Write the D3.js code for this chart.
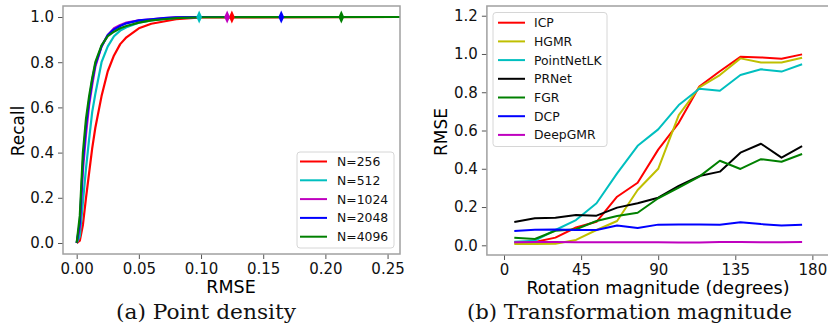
<!DOCTYPE html>
<html>
<head>
<meta charset="utf-8">
<script src="https://cdn.jsdelivr.net/npm/d3@7"></script>
<style>
  body { margin: 0; background: #fff; }
  svg { display: block; }
</style>
</head>
<body>
<svg id="chart" width="828" height="327"></svg>
<script>
// ---- data: (a) point density, recall vs RMSE threshold ----
const rmseGrid = [0, 0.0025, 0.005, 0.0075, 0.01, 0.0125, 0.015, 0.02, 0.025, 0.03, 0.035, 0.04, 0.05, 0.06, 0.07, 0.08, 0.1, 0.26];
const densityNames = ["N=256", "N=512", "N=1024", "N=2048", "N=4096"];
const recall256  = [0, 0.01, 0.08, 0.2, 0.31, 0.42, 0.51, 0.65, 0.76, 0.83, 0.88, 0.91, 0.95, 0.97, 0.98, 0.99, 0.998, 1];
const recall512  = [0, 0.03, 0.18, 0.33, 0.46, 0.58, 0.66, 0.8, 0.87, 0.915, 0.94, 0.955, 0.975, 0.985, 0.992, 0.996, 1, 1];
const recall1024 = [0, 0.07, 0.32, 0.48, 0.61, 0.7, 0.78, 0.87, 0.92, 0.95, 0.965, 0.975, 0.985, 0.99, 0.995, 0.998, 1, 1];
const recall2048 = [0, 0.09, 0.36, 0.52, 0.63, 0.72, 0.79, 0.87, 0.92, 0.945, 0.96, 0.972, 0.985, 0.99, 0.995, 0.998, 1, 1];
const recall4096 = [0, 0.12, 0.4, 0.55, 0.65, 0.73, 0.8, 0.875, 0.915, 0.935, 0.95, 0.96, 0.975, 0.985, 0.99, 0.995, 0.999, 1];
const maxRmse = [0.1248, 0.0985, 0.121, 0.1645, 0.2128];
const densityColors = ["#ff0000", "#00bfbf", "#bf00bf", "#0000ff", "#008000"];

// ---- data: (b) transformation magnitude, RMSE vs rotation ----
const rotation = [6, 18, 30, 42, 54, 66, 78, 90, 102, 114, 126, 138, 150, 162, 174];
const methodNames = ["ICP", "HGMR", "PointNetLK", "PRNet", "FGR", "DCP", "DeepGMR"];
const icp        = [0.014, 0.017, 0.04, 0.093, 0.123, 0.254, 0.327, 0.5, 0.64, 0.83, 0.91, 0.985, 0.982, 0.975, 0.998];
const hgmr       = [0.007, 0.007, 0.008, 0.028, 0.08, 0.127, 0.289, 0.4, 0.68, 0.826, 0.89, 0.977, 0.956, 0.955, 0.98];
const pointnetlk = [0.019, 0.024, 0.08, 0.132, 0.22, 0.376, 0.52, 0.606, 0.733, 0.818, 0.808, 0.89, 0.92, 0.908, 0.946];
const prnet      = [0.122, 0.141, 0.144, 0.158, 0.155, 0.197, 0.22, 0.249, 0.31, 0.362, 0.385, 0.484, 0.531, 0.458, 0.519];
const fgr        = [0.04, 0.033, 0.076, 0.084, 0.127, 0.153, 0.17, 0.246, 0.301, 0.359, 0.442, 0.399, 0.45, 0.437, 0.477];
const dcp        = [0.075, 0.081, 0.082, 0.08, 0.08, 0.104, 0.09, 0.108, 0.109, 0.109, 0.108, 0.121, 0.111, 0.104, 0.108];
const deepgmr    = [0.016, 0.017, 0.017, 0.016, 0.016, 0.016, 0.016, 0.016, 0.015, 0.015, 0.017, 0.017, 0.016, 0.016, 0.017];
const methodColors = ["#ff0000", "#bfbf00", "#00bfbf", "#000000", "#008000", "#0000ff", "#bf00bf"];

const recallTicks = [0, 0.2, 0.4, 0.6, 0.8, 1.0];
const rmseTicks = [0, 0.05, 0.1, 0.15, 0.2, 0.25];
const errTicks = [0, 0.2, 0.4, 0.6, 0.8, 1.0, 1.2];
const rotTicks = [0, 45, 90, 135, 180];

const svg = d3.select("#chart");
const sansFont = "DejaVu Sans, sans-serif";

/* draws frame, ticks and labels for one panel */
function drawAxes(g, x, y, xTicks, yTicks, xFmt, yFmt) {
    const [x0, x1] = x.range(), [y0, y1] = y.range();

    g.append("g")
     .attr("transform", `translate(0,${y0})`)
     .call(d3.axisBottom(x).tickValues(xTicks).tickFormat(xFmt).tickSize(5).tickPadding(4))
     .call(a => a.select(".domain").remove());
    g.append("g")
     .attr("transform", `translate(${x0},0)`)
     .call(d3.axisLeft(y).tickValues(yTicks).tickFormat(yFmt).tickSize(5).tickPadding(4))
     .call(a => a.select(".domain").remove());

    g.selectAll(".tick line").attr("stroke", "#555").attr("stroke-width", 1);
    g.selectAll(".tick text")
     .attr("font-family", sansFont)
     .attr("font-size", "15px")
     .attr("fill", "#111");

    g.append("rect")
     .attr("x", x0).attr("y", y1)
     .attr("width", x1 - x0).attr("height", y0 - y1)
     .attr("fill", "none")
     .attr("stroke", "#a0a0a0")
     .attr("stroke-width", 1.5);
}

function drawLegend(g, names, colors, box, rowY, rowGap, lineX, textX) {
    g.append("rect")
     .attr("x", box.x).attr("y", box.y)
     .attr("width", box.w).attr("height", box.h)
     .attr("rx", 3)
     .attr("fill", "white")
     .attr("fill-opacity", 0.85)
     .attr("stroke", "#d6d6d6");
    names.forEach((n, i) => {
        const yy = rowY + i * rowGap;
        g.append("line")
         .attr("x1", lineX[0]).attr("x2", lineX[1])
         .attr("y1", yy).attr("y2", yy)
         .attr("stroke", colors[i])
         .attr("stroke-width", 2);
        g.append("text")
         .attr("x", textX).attr("y", yy)
         .attr("dy", "0.36em")
         .attr("font-family", sansFont)
         .attr("font-size", "12.4px")
         .attr("fill", "#111")
         .text(n);
    });
}

// ---------- panel (a) ----------
const xa = d3.scaleLinear().domain([-0.011, 0.26]).range([63, 400]);
const ya = d3.scaleLinear().domain([-0.0487, 1.0487]).range([254, 6]);
const gA = svg.append("g");

svg.append("clipPath").attr("id", "clipA")
   .append("rect").attr("x", 63).attr("y", 6).attr("width", 337).attr("height", 248);

const recallSeries = [recall256, recall512, recall1024, recall2048, recall4096];
const lineA = d3.line().x(d => xa(d[0])).y(d => ya(d[1]));
const plotA = gA.append("g").attr("clip-path", "url(#clipA)");

recallSeries.forEach((vals, i) => {
    plotA.append("path")
         .datum(rmseGrid.map((r, j) => [r, vals[j]]))
         .attr("d", lineA)
         .attr("fill", "none")
         .attr("stroke", densityColors[i])
         .attr("stroke-width", 2.2)
         .attr("stroke-linejoin", "round");
});

// max-error markers sitting on recall = 1
const diamond = d3.symbol().type(d3.symbolDiamond).size(40);
maxRmse.forEach((m, i) => {
    plotA.append("path")
         .attr("d", diamond())
         .attr("transform", `translate(${xa(m)},${ya(1)}) scale(0.85,1.1)`)
         .attr("fill", densityColors[i]);
});

drawAxes(gA, xa, ya, rmseTicks, recallTicks, d3.format(".2f"), d3.format(".1f"));

gA.append("text")
  .attr("x", 231).attr("y", 293)
  .attr("text-anchor", "middle")
  .attr("font-family", sansFont).attr("font-size", "17.5px")
  .text("RMSE");
gA.append("text")
  .attr("transform", "translate(18,131) rotate(-90)")
  .attr("text-anchor", "middle")
  .attr("dy", "0.36em")
  .attr("font-family", sansFont).attr("font-size", "17px")
  .text("Recall");

drawLegend(gA, densityNames, densityColors,
           {x: 297, y: 152, w: 97, h: 96}, 161.5, 18.8, [300, 327], 337);

// ---------- panel (b) ----------
const xb = d3.scaleLinear().domain([-10, 190]).range([486.9, 829.5]);
const yb = d3.scaleLinear().domain([-0.0507, 1.2508]).range([255, 6]);
const gB = svg.append("g");

const methodSeries = [icp, hgmr, pointnetlk, prnet, fgr, dcp, deepgmr];
const lineB = d3.line().x((d, j) => xb(rotation[j])).y(d => yb(d));

methodSeries.forEach((vals, i) => {
    gB.append("path")
      .datum(vals)
      .attr("d", lineB)
      .attr("fill", "none")
      .attr("stroke", methodColors[i])
      .attr("stroke-width", 2)
      .attr("stroke-linejoin", "round");
});

drawAxes(gB, xb, yb, rotTicks, errTicks, d3.format("d"), d3.format(".1f"));

gB.append("text")
  .attr("x", 658).attr("y", 294)
  .attr("text-anchor", "middle")
  .attr("font-family", sansFont).attr("font-size", "17.5px")
  .text("Rotation magnitude (degrees)");
gB.append("text")
  .attr("transform", "translate(441,132) rotate(-90)")
  .attr("text-anchor", "middle")
  .attr("dy", "0.36em")
  .attr("font-family", sansFont).attr("font-size", "17px")
  .text("RMSE");

drawLegend(gB, methodNames, methodColors,
           {x: 493, y: 12.5, w: 114, h: 134}, 22.7, 18.7, [498, 525], 534);

// ---------- captions ----------
svg.append("text")
   .attr("x", 116).attr("y", 319)
   .attr("textLength", 180).attr("lengthAdjust", "spacingAndGlyphs")
   .attr("font-family", "DejaVu Serif, serif").attr("font-size", "21px")
   .attr("fill", "#111")
   .text("(a) Point density");
svg.append("text")
   .attr("x", 467).attr("y", 319)
   .attr("textLength", 325).attr("lengthAdjust", "spacingAndGlyphs")
   .attr("font-family", "DejaVu Serif, serif").attr("font-size", "21px")
   .attr("fill", "#111")
   .text("(b) Transformation magnitude");
</script>
</body>
</html>
